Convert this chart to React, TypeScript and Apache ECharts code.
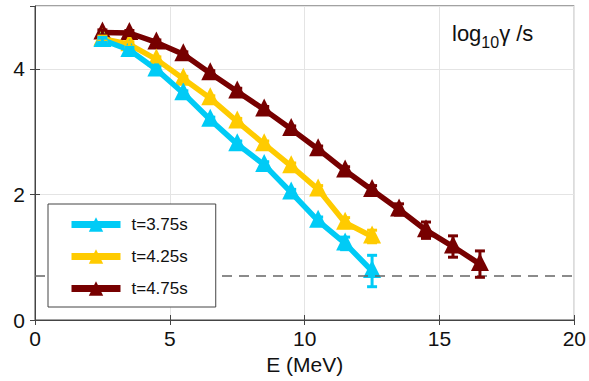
import React, { useEffect, useRef } from "react";
import * as echarts from "echarts";

const energies = [2.5, 3.5, 4.5, 5.5, 6.5, 7.5, 8.5, 9.5, 10.5, 11.5, 12.5, 13.5, 14.5, 15.5, 16.5];
const seriesNames = ["t=3.75s", "t=4.25s", "t=4.75s"];
const cyanValues = [4.46, 4.3, 3.99, 3.61, 3.19, 2.8, 2.47, 2.03, 1.58, 1.22, 0.78];
const yellowValues = [4.48, 4.39, 4.15, 3.84, 3.53, 3.16, 2.8, 2.45, 2.08, 1.55, 1.33];
const brownValues = [4.58, 4.57, 4.42, 4.23, 3.93, 3.64, 3.35, 3.04, 2.72, 2.38, 2.07, 1.76, 1.43, 1.17, 0.89];
const cyanErrors = [0.04, 0.04, 0.04, 0.04, 0.04, 0.05, 0.05, 0.05, 0.06, 0.1, 0.25];
const yellowErrors = [0.04, 0.04, 0.04, 0.04, 0.04, 0.05, 0.05, 0.05, 0.06, 0.08, 0.1];
const brownErrors = [0.04, 0.04, 0.04, 0.04, 0.04, 0.05, 0.05, 0.05, 0.05, 0.06, 0.07, 0.09, 0.13, 0.17, 0.21];
const threshold = 0.7;
const xTicks = [0, 5, 10, 15, 20];
const yTicks = [0, 2, 4];

const colors = ["#00CBF6", "#FFCB00", "#770000"];
const FONT = "Liberation Sans";

function pairs(vals: number[]) {
  return vals.map((v, i) => [energies[i], v]);
}
function errData(vals: number[], errs: number[]) {
  return vals.map((v, i) => [energies[i], v - errs[i], v + errs[i]]);
}

function errorSeries(vals: number[], errs: number[], color: string, z: number) {
  return {
    type: "custom",
    silent: true,
    z,
    data: errData(vals, errs),
    encode: { x: 0, y: [1, 2] },
    renderItem: (params: any, api: any) => {
      const x = api.value(0);
      const lo = api.coord([x, api.value(1)]);
      const hi = api.coord([x, api.value(2)]);
      const w = 5;
      const style = { stroke: color, lineWidth: 3 };
      return {
        type: "group",
        children: [
          { type: "line", shape: { x1: lo[0], y1: lo[1], x2: hi[0], y2: hi[1] }, style },
          { type: "line", shape: { x1: lo[0] - w, y1: lo[1], x2: lo[0] + w, y2: lo[1] }, style },
          { type: "line", shape: { x1: hi[0] - w, y1: hi[1], x2: hi[0] + w, y2: hi[1] }, style },
        ],
      };
    },
  };
}

export default function App() {
  const ref = useRef<HTMLDivElement>(null);
  useEffect(() => {
    if (!ref.current) return;
    const chart = echarts.init(ref.current, undefined, { renderer: "svg" });
    const lineSeries = (name: string, vals: number[], color: string, z: number, withMark: boolean) => ({
      type: "line",
      name,
      z,
      data: pairs(vals),
      symbol: "triangle",
      symbolSize: 18,
      symbolOffset: [0, -2],
      itemStyle: { color },
      lineStyle: { color, width: 5.5 },
      ...(withMark
        ? {
            markLine: {
              silent: true,
              symbol: "none",
              label: { show: false },
              lineStyle: { color: "#666", type: [10, 7], width: 1.5 },
              data: [{ yAxis: threshold }],
            },
          }
        : {}),
    });
    chart.setOption({
      animation: false,
      backgroundColor: "#fff",
      textStyle: { fontFamily: FONT },
      grid: { left: 35, right: 12, top: 6, bottom: 61, show: true, borderColor: "#444", borderWidth: 1 },
      xAxis: [
        {
          type: "value",
          min: 0,
          max: 20,
          interval: 5,
          name: "E (MeV)",
          nameLocation: "middle",
          nameGap: 33,
          nameTextStyle: { fontSize: 21, color: "#111", fontFamily: FONT },
          axisLine: { lineStyle: { color: "#444" } },
          axisTick: { inside: true, length: 5, lineStyle: { color: "#444" } },
          axisLabel: {
            fontSize: 21,
            color: "#111",
            margin: 8,
            fontFamily: FONT,
            formatter: (v: number) => (xTicks.includes(v) ? String(v) : ""),
          },
          splitLine: { show: true, lineStyle: { color: "#e4e4e4" } },
        },
        {
          type: "value",
          position: "top",
          min: 0,
          max: 20,
          interval: 5,
          axisLine: { show: false },
          axisTick: { inside: true, length: 5, lineStyle: { color: "#444" } },
          axisLabel: { show: false },
          splitLine: { show: false },
        },
      ],
      yAxis: [
        {
          type: "value",
          min: 0,
          max: 5,
          interval: 2,
          axisLine: { show: true, lineStyle: { color: "#444" } },
          axisTick: { show: true, inside: true, length: 5, lineStyle: { color: "#444" } },
          axisLabel: {
            fontSize: 21,
            color: "#111",
            margin: 10,
            fontFamily: FONT,
            showMaxLabel: false,
            formatter: (v: number) => (yTicks.includes(v) ? String(v) : ""),
          },
          splitLine: { show: true, lineStyle: { color: "#e4e4e4" } },
        },
        {
          type: "value",
          position: "right",
          min: 0,
          max: 5,
          interval: 2,
          axisLine: { show: false },
          axisTick: { show: true, inside: true, length: 5, lineStyle: { color: "#444" } },
          axisLabel: { show: false },
          splitLine: { show: false },
        },
      ],
      legend: {
        orient: "vertical",
        left: 48,
        top: 204,
        padding: [12, 28, 10, 20],
        itemGap: 15,
        itemWidth: 49,
        itemHeight: 18,
        backgroundColor: "#fff",
        borderColor: "#444",
        borderWidth: 1,
        borderRadius: 0,
        z: 10,
        lineStyle: { width: 7 },
        textStyle: { fontSize: 17, color: "#111", fontFamily: FONT, padding: [0, 0, 0, 6] },
        data: seriesNames,
      },
      graphic: [
        {
          type: "text",
          left: 452,
          top: 22,
          z: 20,
          style: {
            text: "{a|log}{b|10}{a|γ /s}",
            fill: "#111",
            rich: {
              a: { fontSize: 22, fontFamily: FONT, fill: "#111", verticalAlign: "top", lineHeight: 24 },
              b: { fontSize: 16, fontFamily: FONT, fill: "#111", padding: [12, 0, 0, 0], verticalAlign: "top", lineHeight: 24 },
            },
          },
        },
      ],
      series: [
        lineSeries(seriesNames[2], brownValues, colors[2], 2, true),
        lineSeries(seriesNames[1], yellowValues, colors[1], 3, false),
        lineSeries(seriesNames[0], cyanValues, colors[0], 4, false),
        errorSeries(brownValues, brownErrors, colors[2], 5),
        errorSeries(yellowValues, yellowErrors, colors[1], 5),
        errorSeries(cyanValues, cyanErrors, colors[0], 5),
      ],
    });
    return () => chart.dispose();
  }, []);
  return <div ref={ref} style={{ width: 589, height: 381, position: "absolute", left: 0, top: 0 }} />;
}
